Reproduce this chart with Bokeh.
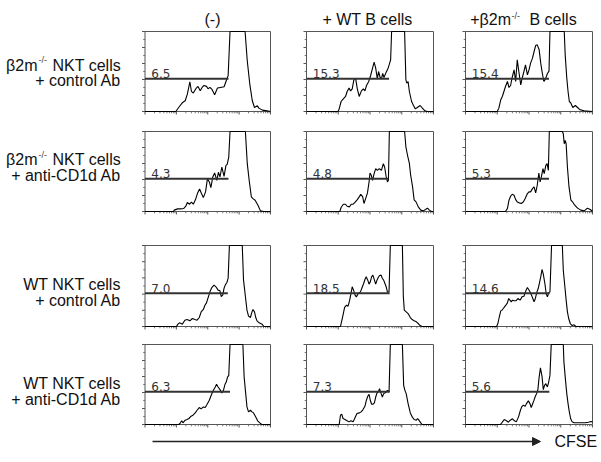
import numpy as np
from bokeh.plotting import figure
from bokeh.models import Range1d, Arrow, NormalHead
from bokeh.core.properties import value
from bokeh.embed import file_html
from bokeh.resources import INLINE

# ---------------- data (x in CFSE decades 0..4, y in % of panel height) -------------
col_headers = ["(-)", "+ WT B cells", "+\u03b22m", "-/-", "B cells"]
row_line1 = [("\u03b22m", "-/-", "NKT cells"), ("\u03b22m", "-/-", "NKT cells"),
             ("", "", "WT NKT cells"), ("", "", "WT NKT cells")]
row_line2 = ["+ control Ab", "+ anti-CD1d Ab", "+ control Ab", "+ anti-CD1d Ab"]

# beta2m-/- NKT + control Ab
ko_ctrl_none = [(0,0),(0.98,0),(1.09,5.9),(1.20,11.3),(1.28,13.4),(1.35,21.8),(1.43,37.2),(1.48,25.1),(1.54,23.0),(1.62,28.5),(1.69,31.4),(1.76,25.9),(1.82,30.1),(1.88,32.6),(1.96,31.4),(2.01,28.5),(2.07,30.1),(2.14,27.2),(2.22,20.9),(2.31,29.3),(2.41,30.1),(2.52,31.0),(2.59,38.5),(2.65,44.8),(2.71,100),(3.19,100),(3.26,63.2),(3.34,34.3),(3.42,13.4),(3.49,5.0),(3.58,7.1),(3.63,4.2),(3.74,1.7),(3.89,0.8),(4.0,0)]
ko_ctrl_wtb = [(0,0),(0.99,0),(1.02,2.1),(1.09,12.5),(1.16,15.8),(1.23,18.8),(1.28,25.0),(1.34,29.2),(1.39,25.8),(1.44,28.3),(1.49,39.2),(1.55,40.8),(1.60,28.3),(1.66,18.8),(1.73,25.8),(1.79,28.3),(1.84,25.8),(1.89,32.5),(1.96,37.5),(2.02,45.0),(2.08,54.2),(2.13,61.7),(2.18,54.2),(2.23,40.8),(2.27,50.0),(2.32,42.5),(2.36,40.8),(2.40,47.5),(2.44,42.5),(2.51,49.2),(2.57,54.2),(2.61,59.2),(2.65,64.6),(2.68,100),(3.09,100),(3.13,39.6),(3.16,35.4),(3.20,37.5),(3.24,25.0),(3.31,12.5),(3.37,7.5),(3.43,3.3),(3.49,5.0),(3.58,7.5),(3.65,4.2),(3.73,0.8),(3.81,0),(4.0,0)]
ko_ctrl_kob = [(0,0),(1.00,0),(1.05,4.2),(1.11,14.6),(1.16,18.8),(1.21,25.0),(1.26,31.3),(1.32,37.5),(1.37,30.0),(1.42,32.5),(1.47,42.5),(1.53,52.1),(1.58,37.5),(1.63,64.6),(1.68,50.0),(1.74,33.3),(1.79,42.5),(1.84,50.0),(1.89,58.3),(1.95,45.8),(2.00,52.1),(2.05,60.4),(2.11,66.7),(2.16,75.0),(2.21,82.5),(2.26,83.3),(2.32,77.1),(2.37,60.4),(2.42,47.5),(2.47,37.5),(2.52,40.8),(2.58,47.5),(2.63,50.4),(2.66,100),(3.11,100),(3.14,70.8),(3.19,41.7),(3.23,25.0),(3.27,12.5),(3.32,10.4),(3.38,5.0),(3.46,7.5),(3.53,5.0),(3.61,2.1),(3.74,0.8),(4.0,0)]
# beta2m-/- NKT + anti-CD1d Ab
ko_cd1d_none = [(0,0),(0.91,0),(0.93,1.7),(1.04,3.3),(1.14,3.3),(1.23,3.7),(1.30,6.6),(1.35,11.2),(1.42,9.1),(1.48,11.6),(1.54,9.1),(1.61,14.9),(1.67,22.4),(1.74,28.2),(1.80,22.4),(1.86,17.4),(1.93,24.5),(1.99,41.1),(2.05,37.0),(2.10,29.9),(2.16,43.2),(2.22,48.1),(2.29,39.0),(2.34,49.0),(2.39,43.2),(2.45,55.6),(2.52,44.0),(2.58,57.7),(2.62,59.0),(2.67,68.1),(2.71,100),(3.20,100),(3.26,59.8),(3.32,39.0),(3.39,18.3),(3.45,15.8),(3.51,14.1),(3.60,7.9),(3.68,0.8),(3.79,0),(4.0,0)]
ko_cd1d_wtb = [(0,0),(1.05,0),(1.09,5.0),(1.16,9.1),(1.23,9.1),(1.28,6.6),(1.35,5.8),(1.41,9.1),(1.47,9.1),(1.54,12.0),(1.60,14.9),(1.66,18.3),(1.71,21.6),(1.77,18.3),(1.81,10.0),(1.86,15.8),(1.92,23.2),(1.97,36.9),(2.00,48.1),(2.04,45.2),(2.08,39.0),(2.13,47.3),(2.18,53.5),(2.23,51.5),(2.29,53.5),(2.36,51.5),(2.42,59.8),(2.46,55.6),(2.51,43.2),(2.55,37.0),(2.58,39.0),(2.61,100),(3.09,100),(3.13,80.9),(3.18,70.6),(3.24,60.2),(3.28,45.6),(3.34,31.1),(3.39,14.5),(3.45,12.0),(3.52,5.8),(3.60,1.7),(3.68,0.8),(3.75,2.5),(3.81,4.2),(3.87,1.7),(3.94,0),(4.0,0)]
ko_cd1d_kob = [(0,0),(1.26,0),(1.32,3.7),(1.37,14.1),(1.42,19.1),(1.47,21.6),(1.53,20.3),(1.58,14.9),(1.63,12.0),(1.69,10.8),(1.76,10.0),(1.82,12.0),(1.88,16.2),(1.95,22.4),(2.00,24.5),(2.05,24.5),(2.11,28.6),(2.16,30.7),(2.21,23.2),(2.26,32.8),(2.31,48.1),(2.35,37.0),(2.39,43.2),(2.44,53.5),(2.48,47.3),(2.53,57.7),(2.57,59.8),(2.61,51.5),(2.64,100),(3.05,100),(3.08,97.1),(3.11,84.7),(3.14,88.8),(3.17,84.7),(3.21,55.6),(3.26,30.7),(3.32,14.1),(3.38,11.6),(3.44,7.9),(3.53,4.2),(3.63,1.7),(3.74,0.8),(3.84,4.2),(3.93,2.5),(4.0,0)]
# WT NKT + control Ab
wt_ctrl_none = [(0,0),(1.00,0),(1.05,2.9),(1.10,4.5),(1.19,2.9),(1.27,7.8),(1.34,8.6),(1.43,7.0),(1.51,9.9),(1.59,8.6),(1.66,7.8),(1.73,11.1),(1.79,18.1),(1.86,21.0),(1.91,26.3),(1.96,29.2),(2.02,36.6),(2.07,42.8),(2.13,48.1),(2.20,51.0),(2.26,49.0),(2.33,44.9),(2.39,44.0),(2.43,37.0),(2.48,39.1),(2.52,47.3),(2.56,51.4),(2.61,54.3),(2.65,59.7),(2.69,100),(3.10,100),(3.14,57.6),(3.20,37.0),(3.25,20.2),(3.30,12.8),(3.36,11.1),(3.41,18.1),(3.44,21.0),(3.49,18.1),(3.53,11.1),(3.57,7.0),(3.64,4.5),(3.73,2.9),(3.79,0),(4.0,0)]
wt_ctrl_wtb = [(0,0),(1.07,0),(1.11,7.0),(1.15,14.0),(1.20,23.5),(1.26,26.3),(1.31,25.1),(1.36,32.5),(1.40,40.7),(1.44,49.0),(1.49,44.0),(1.53,38.7),(1.57,36.6),(1.63,40.7),(1.70,42.8),(1.76,49.0),(1.80,53.1),(1.84,58.0),(1.88,61.3),(1.93,57.2),(1.97,52.3),(2.01,55.1),(2.05,61.3),(2.09,63.4),(2.14,57.2),(2.18,52.3),(2.22,57.2),(2.26,60.5),(2.30,63.0),(2.35,63.4),(2.39,59.3),(2.43,57.2),(2.47,53.1),(2.51,49.0),(2.55,42.4),(2.60,42.8),(2.64,100),(3.02,100),(3.05,37.0),(3.08,20.2),(3.14,18.1),(3.20,16.0),(3.27,11.1),(3.33,8.6),(3.39,7.0),(3.46,5.8),(3.52,3.7),(3.58,1.2),(3.64,0),(4.0,0)]
wt_ctrl_kob = [(0,0),(0.98,0),(1.02,3.7),(1.06,11.1),(1.11,19.3),(1.15,20.2),(1.19,22.2),(1.23,24.3),(1.27,26.3),(1.32,29.2),(1.36,34.6),(1.40,32.5),(1.44,30.5),(1.48,32.5),(1.53,31.7),(1.59,31.7),(1.65,34.6),(1.72,32.5),(1.78,36.6),(1.84,37.4),(1.90,44.0),(1.95,48.1),(1.99,45.7),(2.03,42.8),(2.08,38.7),(2.12,34.6),(2.16,30.5),(2.20,34.6),(2.25,42.8),(2.29,46.9),(2.33,53.9),(2.37,61.3),(2.41,70.4),(2.45,64.6),(2.50,53.1),(2.54,40.7),(2.58,36.6),(2.62,41.6),(2.66,42.8),(2.71,100),(3.05,100),(3.08,69.5),(3.13,49.0),(3.17,32.5),(3.21,18.1),(3.25,9.9),(3.30,3.7),(3.36,1.2),(3.42,2.1),(3.48,0),(4.0,0)]
# WT NKT + anti-CD1d Ab
wt_cd1d_none = [(0,0),(1.08,0),(1.13,2.1),(1.17,4.6),(1.21,2.1),(1.28,5.4),(1.34,6.2),(1.40,7.5),(1.47,10.4),(1.53,11.6),(1.60,14.5),(1.66,17.8),(1.73,21.2),(1.79,19.5),(1.86,22.0),(1.92,21.2),(1.98,25.3),(2.05,30.3),(2.11,36.5),(2.18,42.7),(2.24,46.9),(2.28,50.2),(2.33,46.9),(2.39,43.6),(2.45,39.4),(2.50,42.7),(2.55,50.2),(2.59,53.1),(2.63,59.3),(2.67,61.4),(2.71,100),(3.12,100),(3.16,59.3),(3.21,38.6),(3.25,22.0),(3.30,15.8),(3.36,17.8),(3.41,15.8),(3.46,14.5),(3.53,9.5),(3.59,4.6),(3.66,2.1),(3.72,0),(4.0,0)]
wt_cd1d_wtb = [(0,0),(1.03,0),(1.07,11.6),(1.11,12.9),(1.15,7.5),(1.21,6.2),(1.28,4.6),(1.34,3.3),(1.40,4.6),(1.47,3.3),(1.53,8.7),(1.59,13.7),(1.66,14.5),(1.72,15.8),(1.78,18.7),(1.84,22.8),(1.88,29.5),(1.93,35.3),(1.97,37.8),(2.01,30.3),(2.05,25.3),(2.09,25.3),(2.14,27.0),(2.18,34.4),(2.22,39.4),(2.26,40.7),(2.30,44.8),(2.35,38.6),(2.39,34.4),(2.43,38.6),(2.47,39.4),(2.51,40.7),(2.55,42.7),(2.60,40.7),(2.64,100),(3.02,100),(3.06,49.0),(3.10,42.7),(3.14,38.6),(3.20,26.1),(3.27,14.5),(3.33,9.5),(3.39,6.2),(3.46,5.4),(3.50,7.5),(3.54,5.4),(3.60,2.1),(3.64,0),(4.0,0)]
wt_cd1d_kob = [(0,0),(1.10,0),(1.16,2.9),(1.22,6.2),(1.29,4.6),(1.35,2.9),(1.41,5.4),(1.48,7.1),(1.54,4.6),(1.60,3.3),(1.67,9.5),(1.73,17.8),(1.77,22.0),(1.82,24.1),(1.88,22.8),(1.92,26.1),(1.98,29.5),(2.03,26.1),(2.07,21.2),(2.11,25.3),(2.15,29.5),(2.20,35.3),(2.24,38.6),(2.28,43.6),(2.32,59.3),(2.36,70.9),(2.41,60.1),(2.45,43.6),(2.49,48.9),(2.53,51.0),(2.58,46.9),(2.62,53.1),(2.66,61.4),(2.70,100),(3.08,100),(3.10,78.0),(3.15,55.2),(3.19,38.6),(3.23,26.1),(3.27,15.8),(3.31,7.5),(3.36,3.3),(3.42,2.1),(3.61,2.1),(3.77,2.1),(3.87,2.9),(3.95,3.7),(4.0,3.3)]

gate_labels = [["6.5", "15.3", "15.4"], ["4.3", "4.8", "5.3"],
               ["7.0", "18.5", "14.6"], ["6.3", "7.3", "5.6"]]
gate_ends = [[2.66, 2.60, 2.63], [2.66, 2.58, 2.63],
             [2.64, 2.62, 2.65], [2.71, 2.62, 2.64]]
gate_level = 41
axis_label = "CFSE"

hists = [[ko_ctrl_none, ko_ctrl_wtb, ko_ctrl_kob],
         [ko_cd1d_none, ko_cd1d_wtb, ko_cd1d_kob],
         [wt_ctrl_none, wt_ctrl_wtb, wt_ctrl_kob],
         [wt_cd1d_none, wt_cd1d_wtb, wt_cd1d_kob]]

# ---------------- layout (page pixel coordinates) ----------------
col_px = [(144.5, 270.0), (306.0, 433.0), (465.0, 592.0)]
row_px = [(31.0, 111.0), (131.0, 211.0), (245.0, 326.0), (344.0, 424.0)]
row_baselines = [(64.5, 80.0), (159.0, 175.0), (283.5, 299.5), (383.0, 398.5)]

FONT = value("Liberation Sans")
NUMFONT = value("DejaVu Sans")

p = figure(width=601, height=454, x_range=Range1d(0, 601), y_range=Range1d(454, 0),
           x_axis_location=None, y_axis_location=None, toolbar_location=None,
           output_backend="svg", min_border=0, outline_line_color=None)
p.grid.visible = False

maj_x = [0, 1, 2, 3, 4]
min_x = [float(np.log10(k)) + d for d in range(4) for k in range(2, 10)]
maj_y = [0, 20, 40, 60, 80, 100]
min_y = [10, 30, 50, 70, 90]

for i, (ytop, ybot) in enumerate(row_px):
    for j, (xl, xr) in enumerate(col_px):
        sub = p.subplot(x_source=Range1d(0, 4), y_source=Range1d(0, 100),
                        x_target=Range1d(xl, xr), y_target=Range1d(ybot, ytop))
        dx = 4.0 / (xr - xl)
        dy = 100.0 / (ybot - ytop)
        xs = [a for a, b in hists[i][j]]
        ys = [b for a, b in hists[i][j]]
        # ticks
        sub.segment(x0=maj_x, y0=[0] * len(maj_x), x1=maj_x, y1=[-3 * dy] * len(maj_x),
                    line_color="#555", line_width=1)
        sub.segment(x0=min_x, y0=[0] * len(min_x), x1=min_x, y1=[-1.8 * dy] * len(min_x),
                    line_color="#777", line_width=1)
        sub.segment(x0=[0] * len(maj_y), y0=maj_y, x1=[-3 * dx] * len(maj_y), y1=maj_y,
                    line_color="#555", line_width=1)
        sub.segment(x0=[0] * len(min_y), y0=min_y, x1=[-1.8 * dx] * len(min_y), y1=min_y,
                    line_color="#777", line_width=1)
        # frame
        sub.quad(left=[0], right=[4], bottom=[0], top=[100], fill_color=None,
                 line_color="#555", line_width=1)
        # histogram
        sub.line(xs, ys, line_color="black", line_width=1.1)
        # gate
        sub.line([0, gate_ends[i][j]], [gate_level, gate_level], line_color="#333", line_width=2)
        sub.text(x=[0.2], y=[gate_level + 5.0 * dy], text=[gate_labels[i][j]],
                 text_font=NUMFONT, text_font_size="12px", text_color="#333",
                 text_align="left", text_baseline="alphabetic")

# column headers
p.text(x=[212, 367], y=[19, 19], text=col_headers[:2], text_font=FONT,
       text_font_size="16px", text_color="#111", text_align="center", text_baseline="alphabetic")
p.text(x=[510.5], y=[19], text=[col_headers[2]], text_font=FONT, text_font_size="16px",
       text_color="#111", text_align="right", text_baseline="alphabetic")
p.text(x=[511], y=[15.5], text=[col_headers[3]], text_font=FONT, text_font_size="9px",
       text_color="#333", text_align="left", text_baseline="alphabetic")
p.text(x=[529], y=[19], text=[col_headers[4]], text_font=FONT, text_font_size="16px",
       text_color="#111", text_align="left", text_baseline="alphabetic")

# row labels
for i, (b1, b2) in enumerate(row_baselines):
    pre, sup, post = row_line1[i]
    p.text(x=[120.5], y=[b1], text=[post], text_font=FONT, text_font_size="16px",
           text_color="#111", text_align="right", text_baseline="alphabetic")
    if pre:
        p.text(x=[37], y=[b1], text=[pre], text_font=FONT, text_font_size="16px",
               text_color="#111", text_align="right", text_baseline="alphabetic")
        p.text(x=[38], y=[b1 - 5], text=[sup], text_font=FONT, text_font_size="9px",
               text_color="#444", text_align="left", text_baseline="alphabetic")
    p.text(x=[120.5], y=[b2], text=[row_line2[i]], text_font=FONT, text_font_size="16px",
           text_color="#111", text_align="right", text_baseline="alphabetic")

# CFSE arrow
p.add_layout(Arrow(end=NormalHead(size=8, fill_color="#222", line_color="#222"),
                   x_start=152, y_start=441, x_end=540, y_end=441,
                   line_color="#222", line_width=1.5))
p.text(x=[554], y=[441], text=[axis_label], text_font=FONT, text_font_size="16px",
       text_color="#111", text_align="left", text_baseline="middle")

open("out.html", "w").write(file_html(p, INLINE))
